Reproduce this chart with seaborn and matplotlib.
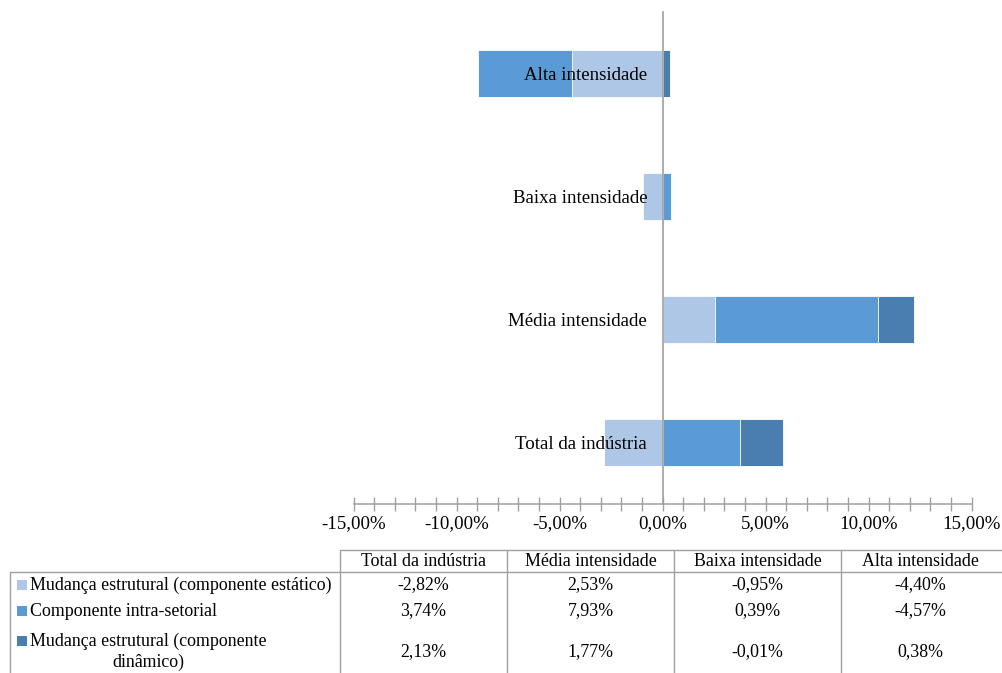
import numpy as np
import pandas as pd
import matplotlib
matplotlib.use("Agg")
import matplotlib.pyplot as plt
from matplotlib.ticker import FixedLocator, MultipleLocator, FuncFormatter
from matplotlib.patches import Rectangle
import seaborn as sns

# ---------------- data ----------------
categories = ["Total da indústria", "Média intensidade", "Baixa intensidade", "Alta intensidade"]
series_names = ["Mudança estrutural (componente estático)",
                "Componente intra-setorial",
                "Mudança estrutural (componente dinâmico)"]
static_vals = [-2.82, 2.53, -0.95, -4.40]
intra_vals = [3.74, 7.93, 0.39, -4.57]
dynamic_vals = [2.13, 1.77, -0.01, 0.38]
x_ticks = [-15, -10, -5, 0, 5, 10, 15]
colors = ["#AEC7E7", "#5B9BD5", "#4A7EB0"]

series_vals = [static_vals, intra_vals, dynamic_vals]

sns.set_theme(style="white")
plt.rcParams['font.family'] = ['Liberation Serif', 'DejaVu Serif']
FS_AX = 13.6
FS = 12.9

W, H = 1002, 673
fig = plt.figure(figsize=(W / 100, H / 100), dpi=100)

ax_l, ax_r, ax_t, ax_b = 353.5, 971.5, 12, 504
ax = fig.add_axes([ax_l / W, 1 - ax_b / H, (ax_r - ax_l) / W, (ax_b - ax_t) / H])

# stacked ends (Excel stacks positives and negatives separately)
ends = []
pos = np.zeros(len(categories))
neg = np.zeros(len(categories))
for vals in series_vals:
    v = np.array(vals)
    e = np.where(v >= 0, pos + v, neg + v)
    pos = np.where(v >= 0, e, pos)
    neg = np.where(v < 0, e, neg)
    ends.append(e)

plot_order = categories[::-1]  # Alta at top
for k in reversed(range(len(series_vals))):
    df = pd.DataFrame({"cat": categories, "val": ends[k]})
    sns.barplot(data=df, x="val", y="cat", order=plot_order, orient="h",
                color=colors[k], saturation=1, width=0.385,
                edgecolor="white", linewidth=0.6, ax=ax, zorder=1)

ax.set_xlabel("")
ax.set_ylabel("")
ax.set_xlim(-15, 15)
ax.set_ylim(3.5, -0.5)

ax.xaxis.set_major_locator(FixedLocator(x_ticks))
ax.xaxis.set_minor_locator(MultipleLocator(1))
ax.xaxis.set_major_formatter(FuncFormatter(lambda v, p: f"{v:.2f}%".replace(".", ",")))
ax.tick_params(axis="x", which="both", bottom=True, direction="inout", length=10, width=1,
               color="#A0A0A0", labelsize=FS_AX, pad=3, labelcolor="black")
ax.tick_params(axis="y", which="both", left=False, length=0, pad=11, labelsize=FS_AX,
               labelcolor="black")

for s in ["top", "right"]:
    ax.spines[s].set_visible(False)
ax.spines["left"].set_position(("data", 0))
ax.spines["left"].set_color("#A6A6A6")
ax.spines["left"].set_linewidth(1.3)
ax.spines["left"].set_zorder(6)
ax.spines["bottom"].set_color("#A0A0A0")
ax.spines["bottom"].set_linewidth(1.1)
ax.yaxis.set_zorder(7)
ax.xaxis.set_zorder(7)
ax.grid(False)

# ---------------- data table ----------------
tax = fig.add_axes([0, 0, 1, 1])
tax.set_xlim(0, W)
tax.set_ylim(H, 0)
tax.axis("off")

col_edges = [340, 507, 674, 841, 1002]
hdr_top, hdr_bot = 550, 571.5
lc = "#A0A0A0"
tax.plot([col_edges[0], W], [hdr_top, hdr_top], color=lc, lw=1)
tax.plot([10, W], [hdr_bot, hdr_bot], color=lc, lw=1)
tax.plot([10, 10], [hdr_bot, H], color=lc, lw=1)
for x in col_edges[:-1]:
    tax.plot([x, x], [hdr_top, H], color=lc, lw=1)

col_centers = [(col_edges[i] + col_edges[i + 1]) / 2 for i in range(len(categories))]
col_centers[-1] = 920
for cx, cat in zip(col_centers, categories):
    tax.text(cx, 561, cat, ha="center", va="center", fontsize=FS, color="black")

row_centers = [585, 611, 652]
label_texts = ["Mudança estrutural (componente estático)",
               "Componente intra-setorial",
               "Mudança estrutural (componente\ndinâmico)"]
square_y = [585, 611, 641]
for k, (ry, txt, sy) in enumerate(zip(row_centers, label_texts, square_y)):
    tax.add_patch(Rectangle((17, sy - 5), 10, 10, facecolor=colors[k], edgecolor="none"))
    tax.text(30, ry, txt, ha="left", va="center", fontsize=FS, color="black",
             multialignment="center", linespacing=1.25)
    for cx, v in zip(col_centers, series_vals[k]):
        tax.text(cx, ry, f"{v:.2f}%".replace(".", ","), ha="center", va="center",
                 fontsize=FS, color="black")

fig.savefig("out.png", dpi=100)
